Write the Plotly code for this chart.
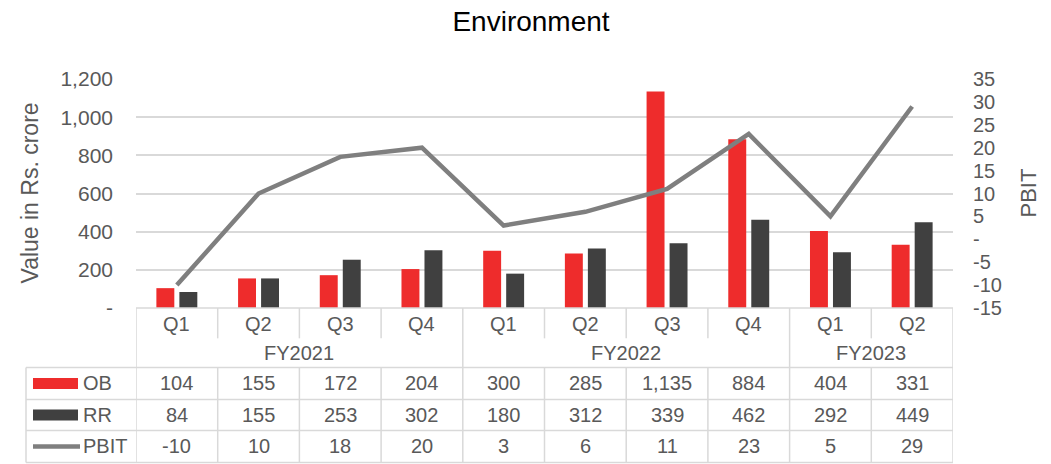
import plotly.graph_objects as go

# ── Data ─────────────────────────────────────────────────────────
fiscal_years = ["FY2021", "FY2021", "FY2021", "FY2021",
                "FY2022", "FY2022", "FY2022", "FY2022",
                "FY2023", "FY2023"]
quarters = ["Q1", "Q2", "Q3", "Q4", "Q1", "Q2", "Q3", "Q4", "Q1", "Q2"]
ob_values = [104, 155, 172, 204, 300, 285, 1135, 884, 404, 331]
rr_values = [84, 155, 253, 302, 180, 312, 339, 462, 292, 449]
pbit_values = [-10, 10, 18, 20, 3, 6, 11, 23, 5, 29]

left_ticks = [0, 200, 400, 600, 800, 1000, 1200]
right_ticks = [-15, -10, -5, 0, 5, 10, 15, 20, 25, 30, 35]

RED = "#EE2C2C"
DARK = "#404040"
LINE_GREY = "#7F7F7F"
TEXT = "#595959"
BORDER = "#D9D9D9"
FONT = "Liberation Sans, Arial, sans-serif"

# ── Geometry (pixels in a 1051x464 page) ─────────────────────────
W, H = 1051, 464
PLOT_L, PLOT_R, PLOT_T, PLOT_B = 136, 953, 79, 307.7


def px_x(px):
    return (px - PLOT_L) / (PLOT_R - PLOT_L)


def px_y(py):
    return (PLOT_B - py) / (PLOT_B - PLOT_T)


categories = [f"{fy} {q}" for fy, q in zip(fiscal_years, quarters)]
n = len(categories)


def fmt_tick(v):
    return "-" if v == 0 else f"{v:,}"


fig = go.Figure()
fig.add_trace(go.Bar(x=categories, y=ob_values, name="OB",
                     marker=dict(color=RED, line_width=0)))
fig.add_trace(go.Bar(x=categories, y=rr_values, name="RR",
                     marker=dict(color=DARK, line_width=0)))
fig.add_trace(go.Scatter(x=categories, y=pbit_values, name="PBIT", yaxis="y2",
                         mode="lines", line=dict(color=LINE_GREY, width=4.5)))

# ── Data table below the plot ────────────────────────────────────
y_top, y_q, y_fy, y_ob, y_rr, y_pbit = 307.7, 338, 367, 399, 430, 462
shapes = []


def hline(py, x0, x1):
    shapes.append(dict(type="line", xref="paper", yref="paper",
                       x0=x0, x1=x1, y0=px_y(py), y1=px_y(py),
                       line=dict(color=BORDER, width=1.5)))


def vline(xv, py0, py1, xref="x"):
    shapes.append(dict(type="line", xref=xref, yref="paper",
                       x0=xv, x1=xv, y0=px_y(py0), y1=px_y(py1),
                       line=dict(color=BORDER, width=1.5)))


hline(y_top, 0, 1)
for py in (y_fy, y_ob, y_rr, y_pbit):
    hline(py, px_x(26), 1)

fy_bounds = [-0.5] + [i + 0.5 for i in range(n - 1) if fiscal_years[i] != fiscal_years[i + 1]] + [n - 0.5]
for i in range(n - 1):
    b = i + 0.5
    if b in fy_bounds:
        continue
    vline(b, y_top, y_q)
    vline(b, y_fy, y_pbit)
for b in fy_bounds:
    vline(b, y_top, y_pbit)
vline(px_x(26), y_fy, y_pbit, xref="paper")

# legend swatches
shapes.append(dict(type="rect", xref="paper", yref="paper", layer="above",
                   x0=px_x(33), x1=px_x(78), y0=px_y(377.5), y1=px_y(388.5),
                   fillcolor=RED, line_width=0))
shapes.append(dict(type="rect", xref="paper", yref="paper", layer="above",
                   x0=px_x(33), x1=px_x(78), y0=px_y(409), y1=px_y(420),
                   fillcolor=DARK, line_width=0))
shapes.append(dict(type="line", xref="paper", yref="paper", layer="above",
                   x0=px_x(33), x1=px_x(80), y0=px_y(446), y1=px_y(446),
                   line=dict(color=LINE_GREY, width=4.5)))

annotations = []
cell_font = dict(family=FONT, size=20, color=TEXT)


def cell(text, xv, py, xref="x", xanchor="center"):
    annotations.append(dict(text=text, x=xv, y=px_y(py), xref=xref, yref="paper",
                            xanchor=xanchor, yanchor="middle", showarrow=False,
                            font=cell_font))


for i in range(n):
    cell(quarters[i], i, (y_top + y_q) / 2 + 1)
    cell(f"{ob_values[i]:,}", i, (y_fy + y_ob) / 2)
    cell(f"{rr_values[i]:,}", i, (y_ob + y_rr) / 2)
    cell(f"{pbit_values[i]:,}", i, (y_rr + y_pbit) / 2)

for k in range(len(fy_bounds) - 1):
    first = int(fy_bounds[k] + 0.5)
    cell(fiscal_years[first], (fy_bounds[k] + fy_bounds[k + 1]) / 2, (y_q + y_fy) / 2)

for label, py in (("OB", (y_fy + y_ob) / 2), ("RR", (y_ob + y_rr) / 2), ("PBIT", (y_rr + y_pbit) / 2)):
    cell(label, px_x(81), py, xref="paper", xanchor="left")

# axis titles
annotations.append(dict(text="Value in Rs. crore", x=px_x(29), y=0.5, xref="paper", yref="paper",
                        textangle=-90, showarrow=False, xanchor="center", yanchor="middle",
                        font=dict(family=FONT, size=23, color=TEXT)))
annotations.append(dict(text="PBIT", x=px_x(1028), y=0.5, xref="paper", yref="paper",
                        textangle=-90, showarrow=False, xanchor="center", yanchor="middle",
                        font=dict(family=FONT, size=22, color=TEXT)))

fig.update_layout(
    width=W, height=H,
    margin=dict(l=PLOT_L, r=W - PLOT_R, t=PLOT_T, b=H - PLOT_B, autoexpand=False),
    paper_bgcolor="white", plot_bgcolor="white",
    title=dict(text="Environment", x=531 / W, xref="container", xanchor="center",
               y=1 - 21 / H, yref="container", yanchor="middle",
               font=dict(family=FONT, size=28, color="#000000")),
    showlegend=False,
    barmode="group", bargap=0.437, bargroupgap=0.22,
    font=dict(family=FONT, size=20, color=TEXT),
    xaxis=dict(type="category", range=[-0.5, n - 0.5], showticklabels=False,
               showgrid=False, zeroline=False, showline=False, fixedrange=True),
    yaxis=dict(range=[0, 1200], tickvals=left_ticks, ticktext=[fmt_tick(v) for v in left_ticks],
               showgrid=True, gridcolor=BORDER, gridwidth=1.5, zeroline=False,
               showline=False, ticks="", ticklabelstandoff=22,
               tickfont=dict(family=FONT, size=21, color=TEXT)),
    yaxis2=dict(range=[-15, 35], overlaying="y", side="right",
                tickvals=right_ticks, ticktext=[fmt_tick(v) for v in right_ticks],
                showgrid=False, zeroline=False, showline=False, ticks="",
                ticklabelstandoff=19,
                tickfont=dict(family=FONT, size=20, color=TEXT)),
    shapes=shapes,
    annotations=annotations,
)

# drop the default 8px page margin so the figure sits at the window origin
fig.write_html("out.html", config={"displayModeBar": False},
               post_script="document.body.style.margin='0';")
